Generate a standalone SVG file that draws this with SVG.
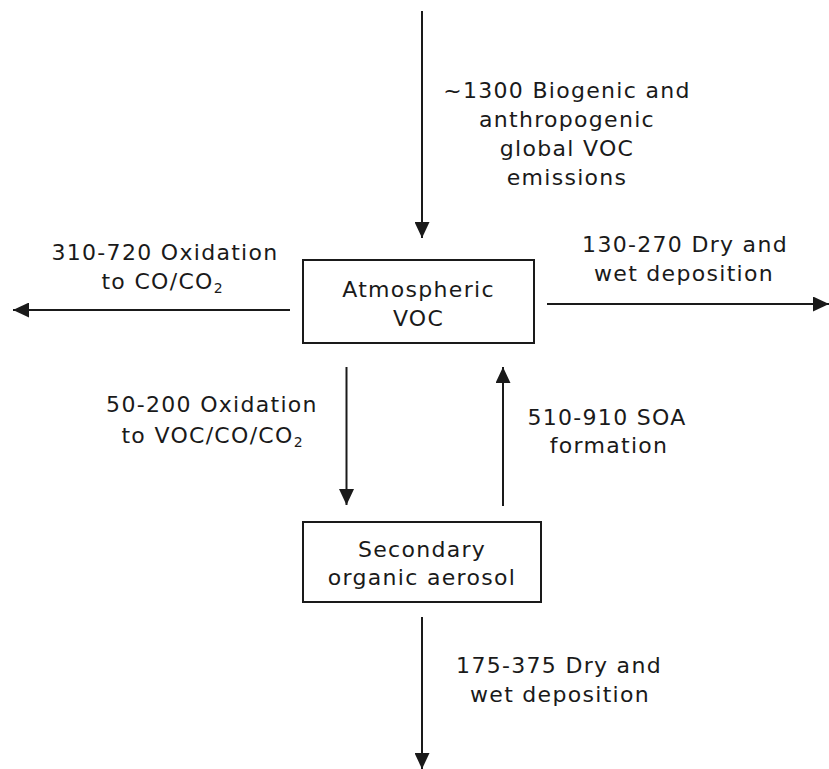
<svg xmlns="http://www.w3.org/2000/svg" width="829" height="769" viewBox="0 0 829 769">
<style>
.lbl{font-family:"DejaVu Sans","Verdana",sans-serif;font-size:22px;letter-spacing:1.3px;fill:#1a1a1a;text-anchor:middle}
.sub{font-size:14px;letter-spacing:0}
.box{fill:#fff;stroke:#1a1a1a;stroke-width:2}
.edge{stroke:#1a1a1a;stroke-width:2;fill:none;marker-end:url(#ah)}
</style>
<defs>
<marker id="ah" markerUnits="userSpaceOnUse" markerWidth="16" markerHeight="15" refX="16" refY="7.5" orient="auto">
<path d="M0,0 L16,7.5 L0,15 z" fill="#1a1a1a"/>
</marker>
</defs>
<rect width="829" height="769" fill="#fff"/>
<g id="connectors">
<line class="edge" x1="422" y1="11" x2="422" y2="238"/>
<line class="edge" x1="290" y1="310" x2="13" y2="310"/>
<line class="edge" x1="547" y1="304" x2="829" y2="304"/>
<line class="edge" x1="346.5" y1="367" x2="346.5" y2="505"/>
<line class="edge" x1="503" y1="506" x2="503" y2="367"/>
<line class="edge" x1="422" y1="617" x2="422" y2="769"/>
</g>
<g id="atmospheric-voc">
<rect class="box" x="303" y="260" width="231" height="83"/>
<text class="lbl" x="418.5" y="297">Atmospheric</text>
<text class="lbl" x="418.5" y="326">VOC</text>
</g>
<g id="secondary-organic-aerosol">
<rect class="box" x="303" y="522" width="238" height="80"/>
<text class="lbl" x="422" y="557">Secondary</text>
<text class="lbl" x="422" y="585">organic aerosol</text>
</g>
<g id="labels">
<text class="lbl" x="567" y="97.5">~1300 Biogenic and</text>
<text class="lbl" x="567" y="127">anthropogenic</text>
<text class="lbl" x="567" y="156">global VOC</text>
<text class="lbl" x="567" y="184.5">emissions</text>
<text class="lbl" x="165" y="259.5">310-720 Oxidation</text>
<text class="lbl" x="162" y="288.5">to CO/CO<tspan class="sub" dy="4">2</tspan></text>
<text class="lbl" x="685" y="252">130-270 Dry and</text>
<text class="lbl" x="684" y="281">wet deposition</text>
<text class="lbl" x="212" y="412">50-200 Oxidation</text>
<text class="lbl" x="212" y="442.5">to VOC/CO/CO<tspan class="sub" dy="4">2</tspan></text>
<text class="lbl" x="607" y="425">510-910 SOA</text>
<text class="lbl" x="609" y="453">formation</text>
<text class="lbl" x="559" y="673">175-375 Dry and</text>
<text class="lbl" x="560" y="702">wet deposition</text>
</g>
</svg>
